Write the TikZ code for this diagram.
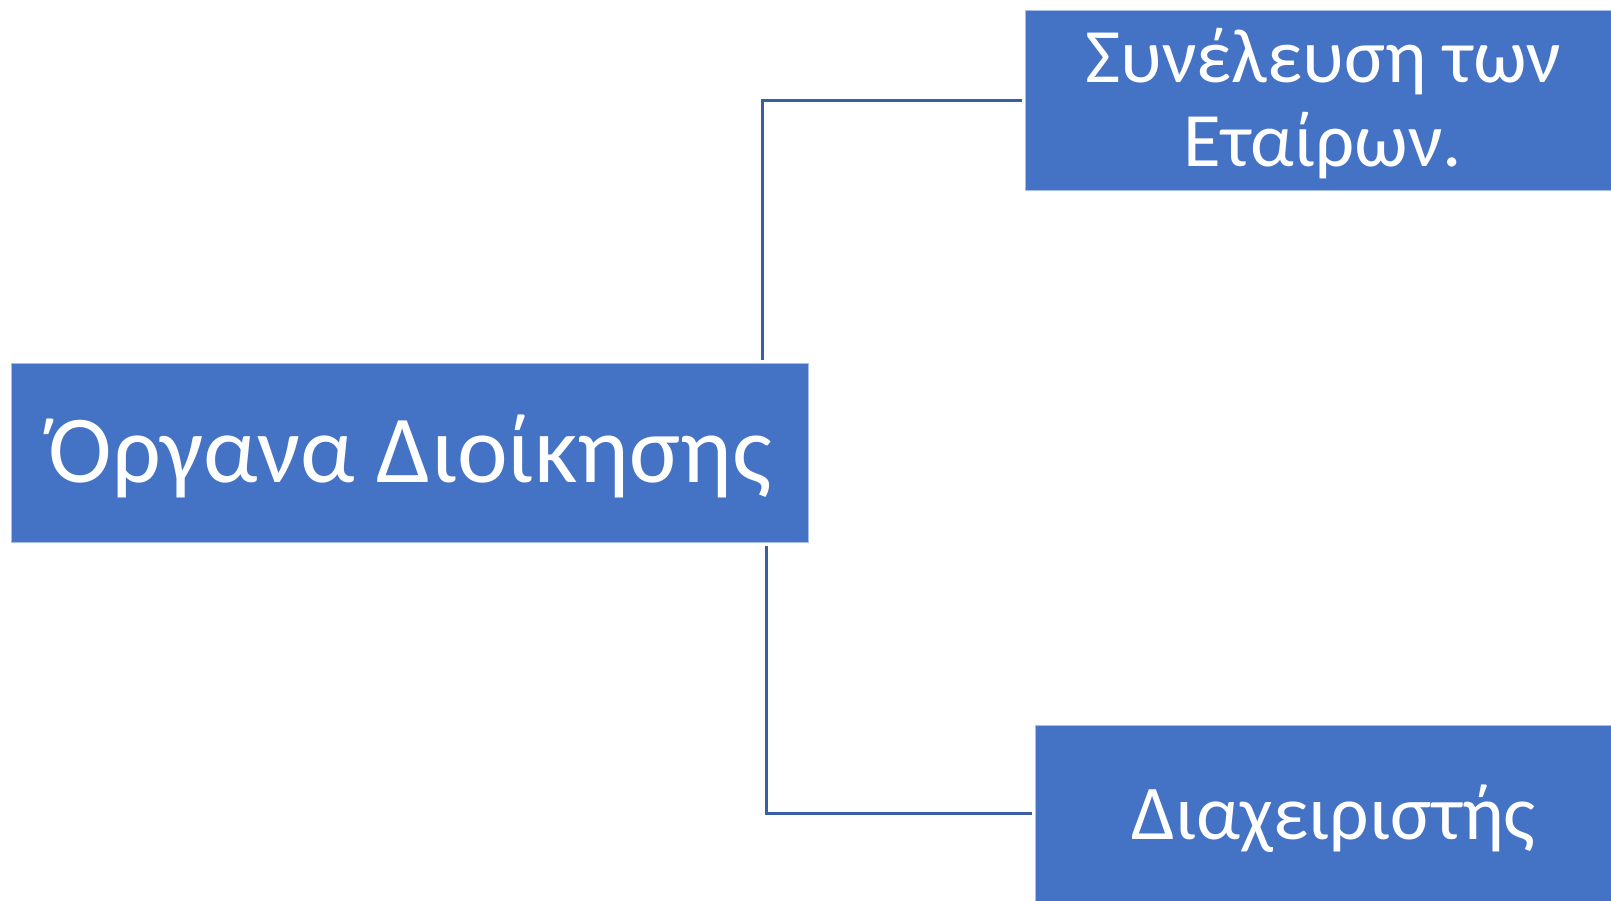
\documentclass[tikz,border=0pt]{standalone}
\usepackage{fontspec}
\setmainfont{Carlito}
\definecolor{boxblue}{HTML}{4472C4}
\definecolor{boxedge}{HTML}{A9BEE6}
\definecolor{linkblue}{HTML}{3A5EA6}
\newcommand{\lowerby}[2]{\raisebox{-#1}[\height][\depth]{#2}}
\begin{document}
\begin{tikzpicture}[x=1pt,y=-1pt,
  orgbox/.style={rectangle, fill=boxblue, draw=boxedge, line width=1pt, text=white, align=center, inner sep=0pt},
  link/.style={draw=linkblue, line width=3pt}]
\useasboundingbox (0,0) rectangle (1611,900);
\clip (0,0) rectangle (1611,900);
\node[orgbox, minimum width=797pt, minimum height=179pt, font=\fontsize{96}{115}\selectfont] (root) at (410.2,453.2) {\lowerby{3pt}{Όργανα Διοίκησης}};
\node[orgbox, minimum width=595pt, minimum height=179.7pt, font=\fontsize{77}{84}\selectfont] (top) at (1323,100.8) {\lowerby{2.5pt}{\parbox{560pt}{\centering Συνέλευση των\\Εταίρων.}}};
\node[orgbox, minimum width=598pt, minimum height=176pt, font=\fontsize{77.5}{90}\selectfont] (bot) at (1334,813) {\lowerby{6pt}{Διαχειριστής}};
\coordinate (ta) at (762.3,360);
\coordinate (ba) at (766.8,546);
\draw[link] (ta) |- ([xshift=-3pt]top.west);
\draw[link] (ba) |- ([xshift=-3pt]bot.west);
\end{tikzpicture}
\end{document}
